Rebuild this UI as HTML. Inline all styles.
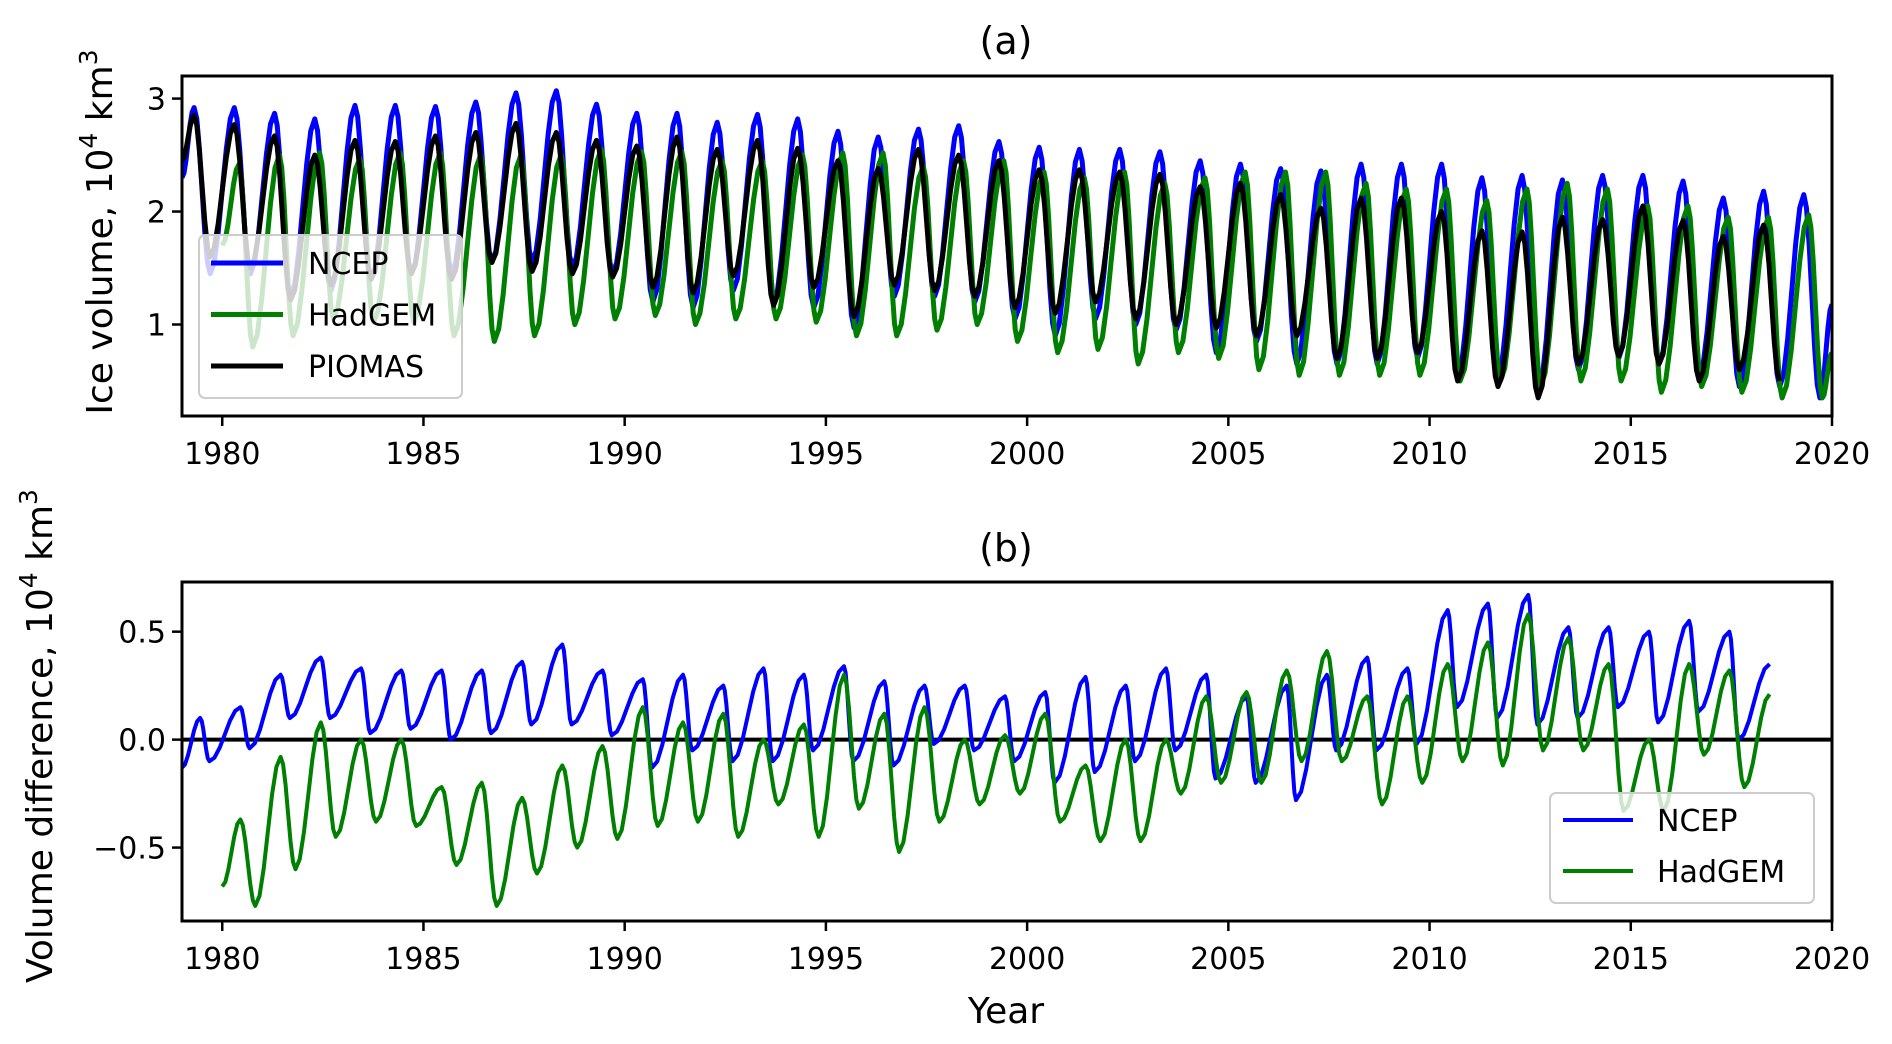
<!DOCTYPE html>
<html><head><meta charset="utf-8">
<style>
html,body{margin:0;padding:0;background:#fff;}
svg{display:block;font-family:"DejaVu Sans","Liberation Sans",sans-serif;}
</style></head>
<body>
<svg id="fig" width="1892" height="1044" viewBox="0 0 1892 1044" xmlns="http://www.w3.org/2000/svg">
<g id="axA"></g>
<g id="axB"></g>
</svg>
<script>
// ---------- data ----------
const yearsA = [];
for (let y = 1979; y <= 2019; y++) yearsA.push(y);
const ncepPeaks = [2.92,2.92,2.87,2.82,2.94,2.94,2.93,2.97,3.05,3.07,2.95,2.87,2.87,2.79,2.86,2.82,2.71,2.66,2.73,2.76,2.62,2.57,2.55,2.55,2.53,2.45,2.42,2.38,2.36,2.42,2.42,2.42,2.30,2.32,2.28,2.32,2.32,2.27,2.12,2.18,2.15];
const ncepTroughs = [1.45,1.45,1.25,1.30,1.40,1.45,1.45,1.55,1.55,1.50,1.45,1.20,1.15,1.30,1.20,1.15,0.97,1.25,1.25,1.20,1.05,0.90,1.05,1.00,0.95,0.75,0.85,0.65,0.65,0.65,0.70,0.55,0.55,0.40,0.60,0.70,0.65,0.55,0.45,0.45,0.35];
const piomasPeaks = [2.85,2.77,2.67,2.50,2.63,2.62,2.67,2.70,2.78,2.70,2.63,2.58,2.66,2.55,2.63,2.56,2.45,2.38,2.55,2.50,2.45,2.37,2.37,2.35,2.33,2.22,2.25,2.15,2.03,2.12,2.12,2.00,1.83,1.82,1.95,1.93,2.05,1.92,1.78,1.88];
const piomasTroughs = [1.60,1.50,1.22,1.35,1.40,1.45,1.40,1.55,1.47,1.45,1.42,1.33,1.28,1.43,1.17,1.33,1.07,1.35,1.30,1.25,1.15,1.10,1.20,1.05,1.00,0.97,0.90,0.90,0.70,0.70,0.75,0.50,0.45,0.35,0.65,0.72,0.65,0.50,0.60,0.50];
const hadPeaks = [2.42,2.50,2.52,2.47,2.52,2.52,2.50,2.50,2.50,2.55,2.53,2.53,2.45,2.45,2.50,2.52,2.52,2.40,2.45,2.45,2.35,2.30,2.35,2.25,2.30,2.35,2.35,2.35,2.25,2.20,2.20,2.10,2.20,2.25,2.20,2.05,2.05,1.95,1.95,1.97];
const hadTroughs = [0.80,0.90,1.05,1.02,1.02,0.90,0.85,0.90,1.00,1.05,1.08,1.00,1.05,1.05,1.02,0.90,0.90,0.95,1.00,0.85,0.75,0.78,0.65,0.75,0.70,0.60,0.55,0.55,0.55,0.55,0.50,0.50,0.45,0.50,0.50,0.40,0.45,0.40,0.35,0.35];
const startA = {ncep:2.30, piomas:2.45, had:1.70};
const endA = {ncep:1.18, had:0.75};

const dNcepPeaks = [0.10,0.15,0.30,0.38,0.33,0.32,0.32,0.32,0.36,0.44,0.32,0.28,0.30,0.25,0.33,0.30,0.34,0.27,0.25,0.25,0.20,0.22,0.29,0.25,0.33,0.30,0.20,0.25,0.30,0.38,0.33,0.60,0.63,0.67,0.52,0.52,0.50,0.55,0.50];
const dNcepTroughs = [-0.10,-0.04,0.10,0.10,0.03,0.05,0.00,0.03,0.07,0.07,0.02,-0.13,-0.05,-0.10,-0.10,-0.05,-0.10,-0.12,-0.02,-0.05,-0.10,-0.20,-0.15,-0.10,-0.05,-0.18,-0.20,-0.28,-0.05,-0.05,-0.02,0.15,0.10,0.07,0.10,0.15,0.08,0.13,0.00];
const dHadPeaks = [-0.37,-0.08,0.08,0.00,0.00,-0.22,-0.20,-0.27,-0.12,-0.03,0.15,0.08,0.12,0.00,0.07,0.30,0.12,0.15,0.00,0.02,0.12,-0.12,0.00,0.00,0.20,0.22,0.32,0.41,0.20,0.20,0.35,0.45,0.58,0.47,0.35,0.00,0.35,0.32];
const dHadTroughs = [-0.77,-0.60,-0.45,-0.38,-0.40,-0.58,-0.77,-0.62,-0.50,-0.46,-0.40,-0.38,-0.45,-0.30,-0.45,-0.32,-0.52,-0.38,-0.30,-0.25,-0.38,-0.47,-0.47,-0.25,-0.20,-0.20,-0.10,-0.10,-0.30,-0.20,-0.10,-0.12,-0.05,-0.05,-0.33,-0.33,-0.07,-0.22];
const startB = {ncep:-0.13, had:-0.68};
const endB = {ncep:0.35, had:0.21};
const xTicks = [1980,1985,1990,1995,2000,2005,2010,2015,2020];
const yTicksA = [1,2,3];
const yTicksB = [-0.5,0.0,0.5];
const yTickLabelsB = ["\u22120.5","0.0","0.5"];

// ---------- layout ----------
const NS = "http://www.w3.org/2000/svg";
const L = 182, R = 1832;
const A = {top:76, bot:416, ymin:0.19, ymax:3.2};
const B = {top:582, bot:921, ymin:-0.84, ymax:0.73};
const X0 = 1979, X1 = 2020;
function xs(t){ return L + (t - X0) / (X1 - X0) * (R - L); }
function ysA(v){ return A.bot - (v - A.ymin) / (A.ymax - A.ymin) * (A.bot - A.top); }
function ysB(v){ return B.bot - (v - B.ymin) / (B.ymax - B.ymin) * (B.bot - B.top); }

function el(tag, attrs, parent){
  const e = document.createElementNS(NS, tag);
  for (const k in attrs) e.setAttribute(k, attrs[k]);
  parent.appendChild(e);
  return e;
}
function anchors(startT, startV, firstYear, peaks, pOff, troughs, tOff, endT, endV){
  const pts = [[startT, startV]];
  const n = Math.max(peaks.length, troughs.length);
  for (let i = 0; i < n; i++){
    if (i < peaks.length) pts.push([firstYear + i + pOff, peaks[i]]);
    if (i < troughs.length) pts.push([firstYear + i + tOff, troughs[i]]);
  }
  if (endT !== null) pts.push([endT, endV]);
  return pts;
}
function pathFrom(pts, ys){
  let d = "";
  for (let i = 0; i < pts.length - 1; i++){
    const [t0, v0] = pts[i], [t1, v1] = pts[i+1];
    const steps = 6;
    for (let s = (i === 0 ? 0 : 1); s <= steps; s++){
      const f = s / steps;
      const g = (1 - Math.cos(Math.PI * f)) / 2;
      const t = t0 + (t1 - t0) * f, v = v0 + (v1 - v0) * g;
      d += (d ? "L" : "M") + xs(t).toFixed(1) + "," + ys(v).toFixed(1);
    }
  }
  return d;
}
function text(parent, x, y, str, size, anchor, name, extra){
  const t = el("text", Object.assign({x:x, y:y, "font-size":size, "text-anchor":anchor||"middle", fill:"#000"}, extra||{}), parent);
  t.textContent = str;
  
  
  return t;
}

// ---------- panel A ----------
const gA = document.getElementById("axA");
const seriesA = [
  {name:"ncep-line", color:"#0000ff", pts:anchors(1979.0,startA.ncep,1979,ncepPeaks,0.30,ncepTroughs,0.70,2020.0,endA.ncep)},
  {name:"hadgem-line", color:"#008000", pts:anchors(1980.0,startA.had,1980,hadPeaks,0.42,hadTroughs,0.76,2020.0,endA.had)},
  {name:"piomas-line", color:"#000000", pts:anchors(1979.0,startA.piomas,1979,piomasPeaks,0.30,piomasTroughs,0.70,null,null)}
];
const clipA = el("clipPath", {id:"cA"}, gA);
el("rect", {x:L, y:A.top, width:R-L, height:A.bot-A.top}, clipA);
for (const s of seriesA){
  const p = el("path", {d:pathFrom(s.pts, ysA), fill:"none", stroke:s.color, "stroke-width":5, "stroke-linejoin":"round", "clip-path":"url(#cA)"}, gA);
  
  
}
const frameA = el("rect", {x:L, y:A.top, width:R-L, height:A.bot-A.top, fill:"none", stroke:"#000", "stroke-width":3}, gA);


for (const t of xTicks){
  el("line", {x1:xs(t), x2:xs(t), y1:A.bot, y2:A.bot+10, stroke:"#000", "stroke-width":2.5}, gA);
  text(gA, xs(t), A.bot+48, String(t), 30, "middle", "x-tick-label-a");
}
for (const v of yTicksA){
  el("line", {x1:L-10, x2:L, y1:ysA(v), y2:ysA(v), stroke:"#000", "stroke-width":2.5}, gA);
  text(gA, L-16, ysA(v)+11, String(v), 30, "end", "y-tick-label-a");
}
text(gA, 1006, 54, "(a)", 38, "middle", "panel-a-title");
const ylA = text(gA, 0, 0, "", 36, "middle", "y-axis-title-a", {transform:"translate(112,232) rotate(-90)"});
ylA.innerHTML = 'Ice volume, 10<tspan dy="-15" font-size="25">4</tspan><tspan dy="15"> km</tspan><tspan dy="-15" font-size="25">3</tspan>';
// legend A
const legA = el("g", {}, gA);


el("rect", {x:199, y:235, width:263, height:163, rx:6, fill:"rgba(255,255,255,0.8)", stroke:"#cccccc", "stroke-width":2}, legA);
const legItemsA = [["NCEP","#0000ff"],["HadGEM","#008000"],["PIOMAS","#000000"]];
legItemsA.forEach((it,i)=>{
  const y = 263 + i*51.5;
  el("line", {x1:211, x2:283, y1:y, y2:y, stroke:it[1], "stroke-width":5}, legA);
  text(legA, 308, y+11, it[0], 30, "start", "legend-entry-" + it[0].toLowerCase());
});

// ---------- panel B ----------
const gB = document.getElementById("axB");
const clipB = el("clipPath", {id:"cB"}, gB);
el("rect", {x:L, y:B.top, width:R-L, height:B.bot-B.top}, clipB);
const zl = el("line", {x1:L, x2:R, y1:ysB(0), y2:ysB(0), stroke:"#000", "stroke-width":4}, gB);


const seriesB = [
  {name:"ncep-diff-line", color:"#0000ff", pts:anchors(1979.0,startB.ncep,1979,dNcepPeaks,0.45,dNcepTroughs,0.68,2018.45,endB.ncep)},
  {name:"hadgem-diff-line", color:"#008000", pts:anchors(1980.0,startB.had,1980,dHadPeaks,0.45,dHadTroughs,0.82,2018.45,endB.had)}
];
for (const s of seriesB){
  const p = el("path", {d:pathFrom(s.pts, ysB), fill:"none", stroke:s.color, "stroke-width":4, "stroke-linejoin":"round", "clip-path":"url(#cB)"}, gB);
  
  
}
const frameB = el("rect", {x:L, y:B.top, width:R-L, height:B.bot-B.top, fill:"none", stroke:"#000", "stroke-width":3}, gB);


for (const t of xTicks){
  el("line", {x1:xs(t), x2:xs(t), y1:B.bot, y2:B.bot+10, stroke:"#000", "stroke-width":2.5}, gB);
  text(gB, xs(t), B.bot+48, String(t), 30, "middle", "x-tick-label-b");
}
yTicksB.forEach((v,i)=>{
  el("line", {x1:L-10, x2:L, y1:ysB(v), y2:ysB(v), stroke:"#000", "stroke-width":2.5}, gB);
  text(gB, L-16, ysB(v)+11, yTickLabelsB[i], 30, "end", "y-tick-label-b");
});
text(gB, 1006, 561, "(b)", 38, "middle", "panel-b-title");
text(gB, 1006, 1023, "Year", 36, "middle", "x-axis-title");
const ylB = text(gB, 0, 0, "", 36, "middle", "y-axis-title-b", {transform:"translate(52,736) rotate(-90)"});
ylB.innerHTML = 'Volume difference, 10<tspan dy="-15" font-size="25">4</tspan><tspan dy="15"> km</tspan><tspan dy="-15" font-size="25">3</tspan>';
const legB = el("g", {}, gB);


el("rect", {x:1550, y:793, width:264, height:110, rx:6, fill:"rgba(255,255,255,0.8)", stroke:"#cccccc", "stroke-width":2}, legB);
[["NCEP","#0000ff"],["HadGEM","#008000"]].forEach((it,i)=>{
  const y = 820 + i*51;
  el("line", {x1:1563, x2:1633, y1:y, y2:y, stroke:it[1], "stroke-width":4}, legB);
  text(legB, 1657, y+11, it[0], 30, "start", "legend-entry-" + it[0].toLowerCase());
});
</script>
</body></html>
